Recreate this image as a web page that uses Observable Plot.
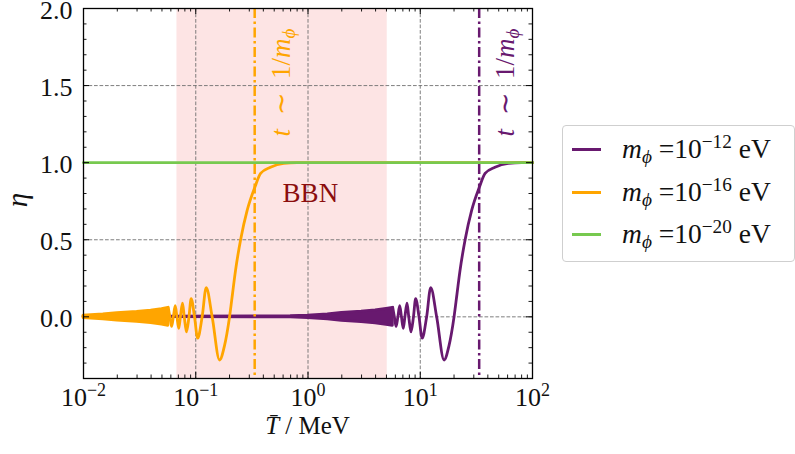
<!DOCTYPE html>
<html><head><meta charset="utf-8">
<script src="https://cdn.jsdelivr.net/npm/d3@7"></script>
<script src="https://cdn.jsdelivr.net/npm/@observablehq/plot@0.6"></script>
<style>
body{margin:0;background:#fff;}
#wrap{position:relative;width:795px;height:454px;font-family:"Liberation Serif",serif;}
#legend{position:absolute;left:562px;top:125px;width:233px;height:137px;border:1.5px solid #cfcfcf;border-radius:4px;box-sizing:border-box;background:#fff;}
.entry{position:absolute;left:0;height:34px;width:232px;}
.swatch{position:absolute;left:9px;top:16px;width:29px;height:2.6px;}
.lbl{position:absolute;left:59px;top:0;font-size:27.5px;line-height:34px;white-space:nowrap;color:#111;}
.lbl sub{font-size:0.7em;vertical-align:-0.25em;line-height:0;}
.lbl sup{font-size:0.7em;vertical-align:0.5em;line-height:0;}
</style></head><body><div id="wrap"></div>
<script>
// ---- data ----
const seriesNames = ["10^−12", "10^−16", "10^−20"];
const seriesColors = ["#68196f", "#ffa500", "#77c94f"];

const xTicks = [0.01, 0.1, 1, 10, 100];
const xTickLabels = ["10^−2", "10^−1", "10^0", "10^1", "10^2"];
const yTicks = [0, 0.5, 1.0, 1.5, 2.0];
const xGrid = [0.1, 1, 10];
const yGrid = [0, 0.5, 1.0, 1.5];

const bbnRange = [0.068, 5.08];
const bbnLabel = {T: 1.05, eta: 0.80, text: "BBN"};
const oscStartT = [0.335, 33.5];
const annotT = [0.58, 57];
const annotEta = 1.52;
const annotText = "t ∼ 1/mϕ";

// m = 1e-16 eV (orange)
const orangeT = [0.0568, 0.0588, 0.0609, 0.0632, 0.0656, 0.068, 0.0706, 0.073, 0.0762, 0.079, 0.0827, 0.087, 0.091, 0.0975, 0.104, 0.114, 0.124, 0.14, 0.163, 0.18, 0.2, 0.2126, 0.226, 0.251, 0.287, 0.336, 0.378, 0.463, 0.608, 0.8, 1.0, 100];
const orangeEta = [0.062, 0, -0.062, 0, 0.072, 0, -0.075, 0, 0.088, 0, -0.097, 0, 0.118, 0, -0.138, 0, 0.19, 0, -0.28, -0.19, 0, 0.15, 0.30, 0.50, 0.69, 0.84, 0.93, 0.97, 0.995, 1.0, 1.0, 1.0];
const orangeBandT = [0.01, 0.015, 0.02, 0.03, 0.04, 0.05, 0.057];
const orangeBandAmp = [0.008, 0.016, 0.024, 0.032, 0.04, 0.05, 0.058];

// m = 1e-12 eV (purple)
const purpleT = [5.68, 5.88, 6.09, 6.32, 6.56, 6.8, 7.06, 7.3, 7.62, 7.9, 8.27, 8.7, 9.1, 9.75, 10.4, 11.4, 12.4, 14, 16.3, 18, 20, 21.26, 22.6, 25.1, 28.7, 33.6, 37.8, 46.3, 60.8, 80, 100];
const purpleEta = [0.062, 0, -0.062, 0, 0.072, 0, -0.075, 0, 0.088, 0, -0.097, 0, 0.118, 0, -0.138, 0, 0.19, 0, -0.28, -0.19, 0, 0.15, 0.30, 0.50, 0.69, 0.84, 0.93, 0.97, 0.995, 1.0, 1.0];
const purpleBandT = [0.01, 0.7, 1, 1.5, 2, 3, 4, 5, 5.7];
const purpleBandAmp = [0, 0.004, 0.008, 0.016, 0.026, 0.034, 0.042, 0.052, 0.058];

// m = 1e-20 eV (green)
const greenT = [0.01, 100];
const greenEta = [1.0, 1.0];

// ---- build tables ----
const line = (T, E) => T.map((t, i) => ({T: t, eta: E[i]}));
const band = (T, A) => T.map((t, i) => ({T: t, lo: -A[i], hi: A[i]}));

const W = 795, H = 454, mL = 83, mR = 263, mT = 8, mB = 76;
const pw = W - mL - mR, ph = H - mT - mB;

const logTicks = d3.scaleLog().domain([0.01, 100]).ticks();
const xMinor = logTicks.filter(d => !xTicks.some(t => Math.abs(t - d) / t < 1e-9));
const yMinor = d3.range(-3, 20).map(k => k / 10).filter(d => !yTicks.some(t => Math.abs(t - d) < 1e-9));

const grid = {stroke: "#6f6f6f", strokeWidth: 0.9, strokeDasharray: "3.7,1.8"};
const lw = 2.8;

const svg = Plot.plot({
  width: W, height: H,
  marginLeft: mL, marginRight: mR, marginTop: mT, marginBottom: mB,
  style: {fontFamily: "'Liberation Serif', serif", fontSize: "26px", background: "white", color: "#111", overflow: "visible"},
  x: {type: "log", domain: [0.01, 100]},
  y: {domain: [-0.4, 2.0]},
  marks: [
    Plot.rectX([bbnRange], {x1: d => d[0], x2: d => d[1], fill: "#fde4e4"}),
    Plot.ruleX(xGrid, grid),
    Plot.ruleY(yGrid, grid),
    // purple
    Plot.areaY(band(purpleBandT, purpleBandAmp), {x: "T", y1: "lo", y2: "hi", fill: seriesColors[0], stroke: seriesColors[0], strokeWidth: lw}),
    Plot.line(line(purpleT, purpleEta), {x: "T", y: "eta", stroke: seriesColors[0], strokeWidth: lw, curve: "monotone-x"}),
    // orange
    Plot.areaY(band(orangeBandT, orangeBandAmp), {x: "T", y1: "lo", y2: "hi", fill: seriesColors[1], stroke: seriesColors[1], strokeWidth: lw}),
    Plot.line(line(orangeT, orangeEta), {x: "T", y: "eta", stroke: seriesColors[1], strokeWidth: lw, curve: "monotone-x"}),
    // green
    Plot.line(line(greenT, greenEta), {x: "T", y: "eta", stroke: seriesColors[2], strokeWidth: lw}),
    // oscillation onset
    Plot.ruleX(oscStartT, {x: d => d, stroke: (d, i) => seriesColors[1 - i], strokeWidth: 2.5, strokeDasharray: "10,3.5,2.5,3.5"}),
    Plot.text(annotT, {x: d => d, y: annotEta, text: () => annotText, rotate: -90, fill: (d, i) => seriesColors[1 - i], fontSize: 27}),
    Plot.text([bbnLabel], {x: "T", y: "eta", text: "text", fill: "#8b0d0d", fontSize: 27}),
    // ticks (inward, all sides)
    Plot.tickX(xTicks, {x: d => d, insetTop: ph - 6, stroke: "black", strokeWidth: 1}),
    Plot.tickX(xTicks, {x: d => d, insetBottom: ph - 6, stroke: "black", strokeWidth: 1}),
    Plot.tickX(xMinor, {x: d => d, insetTop: ph - 3.5, stroke: "black", strokeWidth: 0.9}),
    Plot.tickX(xMinor, {x: d => d, insetBottom: ph - 3.5, stroke: "black", strokeWidth: 0.9}),
    Plot.tickY(yTicks, {y: d => d, insetRight: pw - 6, stroke: "black", strokeWidth: 1}),
    Plot.tickY(yTicks, {y: d => d, insetLeft: pw - 6, stroke: "black", strokeWidth: 1}),
    Plot.tickY(yMinor, {y: d => d, insetRight: pw - 3.5, stroke: "black", strokeWidth: 0.9}),
    Plot.tickY(yMinor, {y: d => d, insetLeft: pw - 3.5, stroke: "black", strokeWidth: 0.9}),
    Plot.axisX(xTicks, {tickSize: 0, tickPadding: 9, fontSize: 26, label: null, tickFormat: d => xTickLabels[xTicks.indexOf(d)]}),
    Plot.axisY(yTicks, {tickSize: 0, tickPadding: 11, fontSize: 26, dy: 2, label: null, tickFormat: d3.format(".1f")}),
    Plot.frame({stroke: "black", strokeWidth: 1.3})
  ]
});

const wrap = document.getElementById("wrap");
wrap.appendChild(svg);
const s = d3.select(svg);

// superscripts on x tick labels
s.selectAll('g[aria-label="x-axis tick label"] text').each(function() {
  const t = d3.select(this);
  const [b, e] = t.text().split("^");
  t.text(b);
  t.append("tspan").attr("dy", "-0.55em").style("font-size", "18px").text(e);
});

// math-styled annotation
s.selectAll("text").filter(function() { return this.textContent === annotText; }).each(function() {
  const t = d3.select(this);
  t.text("");
  t.append("tspan").style("font-style", "italic").text("t");
  t.append("tspan").text("\u2002∼\u20021/");
  t.append("tspan").style("font-style", "italic").text("m");
  t.append("tspan").style("font-style", "italic").style("font-size", "19px").attr("dy", "5").text("ϕ");
});

// axis labels
s.append("text").attr("transform", "translate(27,200) rotate(-90)").attr("text-anchor", "middle")
  .attr("font-size", 29).attr("font-style", "italic").attr("fill", "#111").text("η");
const xl = s.append("text").attr("x", mL + pw / 2).attr("y", 434).attr("text-anchor", "middle")
  .attr("font-size", 25).attr("fill", "#111");
xl.append("tspan").attr("font-style", "italic").text("T\u0304");
xl.append("tspan").text(" / MeV");

// legend
const legend = document.createElement("div");
legend.id = "legend";
const centers = [148, 191, 233];
seriesNames.forEach((name, i) => {
  const [b, e] = name.split("^");
  const row = document.createElement("div");
  row.className = "entry";
  row.style.top = (centers[i] - 125 - 17) + "px";
  row.innerHTML = `<div class="swatch" style="background:${seriesColors[i]}"></div>` +
    `<div class="lbl"><i>m</i><sub><i>ϕ</i></sub> =${b}<sup>${e}</sup> eV</div>`;
  legend.appendChild(row);
});
wrap.appendChild(legend);
</script>
</body></html>
